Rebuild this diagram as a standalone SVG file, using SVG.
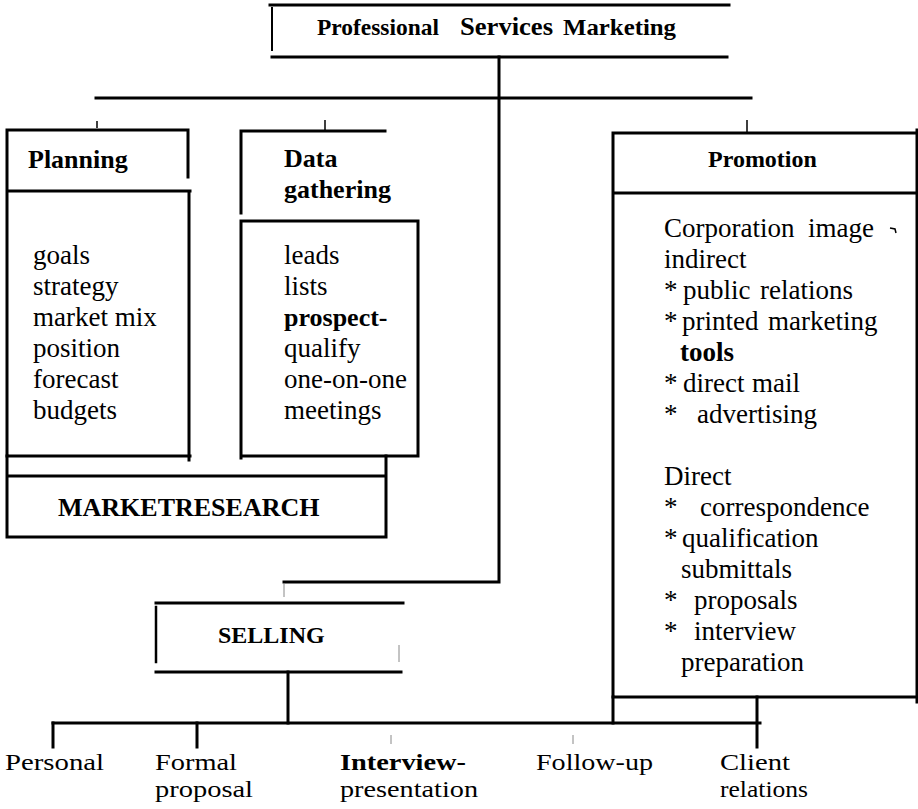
<svg xmlns="http://www.w3.org/2000/svg" width="918" height="809" viewBox="0 0 918 809">
<style>
.ln{stroke:#000;stroke-width:3;fill:none;stroke-linecap:square}
.tk{stroke:#000;stroke-width:1.5;fill:none}
.gt{stroke:#888;stroke-width:1;fill:none}
.t{font-family:"Liberation Serif","Times New Roman",serif;font-size:27px;fill:#000}
.p{font-family:"Liberation Serif","Times New Roman",serif;font-size:27px;fill:#000}
.bt{font-family:"Liberation Serif","Times New Roman",serif;font-size:24px;fill:#000}
.b{font-weight:bold}
.h{font-family:"Liberation Serif","Times New Roman",serif;font-size:26px;font-weight:bold;fill:#000}
</style>
<rect width="918" height="809" fill="#fff"/>
<g id="connectors">
<path class="ln" d="M499,57 V582 H284"/>
<path class="ln" d="M96,98 H751"/>
<path class="tk" d="M97,121 V128 M325,120 V131 M747,120 V132"/>
<path class="gt" d="M284,584 V597"/>
<path class="ln" d="M288,672 V723"/>
<path class="ln" d="M53,723 H760"/>
<path class="ln" d="M53,723 V747 M197,723 V747 M757,697 V747 M613,697 V723"/>
<path class="gt" d="M391,735 V744 M573,735 V744"/>
</g>
<g id="title">
<path class="ln" d="M270,5 H729 M272,57 H727"/>
<path class="ln" d="M272,8 V50" style="stroke-width:2"/>
<text class="h" y="35" style="font-size:24px"><tspan x="317" textLength="122" lengthAdjust="spacingAndGlyphs">Professional</tspan><tspan x="460" textLength="93" lengthAdjust="spacingAndGlyphs" style="font-size:26px">Services</tspan><tspan x="563" textLength="113" lengthAdjust="spacingAndGlyphs">Marketing</tspan></text>
</g>
<g id="planning">
<path class="ln" d="M7,130 H188 M188,130 V177 M7,191 H190 M189,191 V460 M7,456 H190 M7,130 V456"/>
<text class="h" x="28" y="168">Planning</text>
<text class="t"><tspan x="33" y="264">goals</tspan><tspan x="33" y="295">strategy</tspan><tspan x="33" y="326">market mix</tspan><tspan x="33" y="357">position</tspan><tspan x="33" y="388">forecast</tspan><tspan x="33" y="419">budgets</tspan></text>
</g>
<g id="data-gathering">
<path class="ln" d="M241,131 H385 M241,131 V213 M241,221 H418 M241,221 V458 M418,221 V456 M241,456 H418"/>
<text class="h"><tspan x="284" y="167">Data</tspan><tspan x="284" y="198">gathering</tspan></text>
<text class="t"><tspan x="284" y="264">leads</tspan><tspan x="284" y="295">lists</tspan><tspan x="284" y="326" class="b" style="font-size:26px">prospect-</tspan><tspan x="284" y="357">qualify</tspan><tspan x="284" y="388">one-on-one</tspan><tspan x="284" y="419">meetings</tspan></text>
</g>
<g id="market-research">
<path class="ln" d="M7,456 V537 H386 V456 M7,476 H386"/>
<text class="h" x="58" y="516">MARKETRESEARCH</text>
</g>
<g id="promotion">
<path class="ln" d="M613,133 H917 M917,130 V702 M613,133 V697 M613,193 H917 M613,697 H917"/>
<text class="h" x="708" y="167" style="font-size:24px">Promotion</text>
<text class="p">
<tspan x="664" y="237">Corporation</tspan><tspan x="808" y="237">image</tspan>
<tspan x="664" y="268">indirect</tspan>
<tspan x="664" y="299">*</tspan><tspan x="683" y="299">public</tspan><tspan x="760" y="299">relations</tspan>
<tspan x="664" y="330">*</tspan><tspan x="682" y="330">printed</tspan><tspan x="768" y="330">marketing</tspan>
<tspan x="680" y="361" class="b">tools</tspan>
<tspan x="664" y="392">*</tspan><tspan x="683" y="392">direct</tspan><tspan x="752" y="392">mail</tspan>
<tspan x="664" y="423">*</tspan><tspan x="697" y="423">advertising</tspan>
<tspan x="664" y="485">Direct</tspan>
<tspan x="664" y="516">*</tspan><tspan x="700" y="516">correspondence</tspan>
<tspan x="664" y="547">*</tspan><tspan x="682" y="547">qualification</tspan>
<tspan x="681" y="578">submittals</tspan>
<tspan x="664" y="609">*</tspan><tspan x="694" y="609">proposals</tspan>
<tspan x="664" y="640">*</tspan><tspan x="694" y="640">interview</tspan>
<tspan x="681" y="671">preparation</tspan>
</text>
<path d="M890,228 l5,1 l1,4" stroke="#000" stroke-width="1.5" fill="none"/>
</g>
<g id="selling">
<path class="ln" d="M156,603 H403 M156,672 H401"/>
<path class="ln" d="M156,607 V662" style="stroke-width:2.5"/>
<path class="gt" d="M399,645 V662"/>
<text class="h" x="218" y="643" style="font-size:24px">SELLING</text>
</g>
<g id="personal"><text class="bt" x="5" y="770" textLength="99" lengthAdjust="spacingAndGlyphs">Personal</text></g>
<g id="formal-proposal"><text class="bt"><tspan x="155" y="770" textLength="82" lengthAdjust="spacingAndGlyphs">Formal</tspan><tspan x="155" y="797" textLength="98" lengthAdjust="spacingAndGlyphs">proposal</tspan></text></g>
<g id="interview-presentation"><text class="bt"><tspan x="340" y="770" class="b" textLength="126" lengthAdjust="spacingAndGlyphs">Interview-</tspan><tspan x="340" y="797" textLength="138" lengthAdjust="spacingAndGlyphs">presentation</tspan></text></g>
<g id="follow-up"><text class="bt" x="536" y="770" textLength="117" lengthAdjust="spacingAndGlyphs">Follow-up</text></g>
<g id="client-relations"><text class="bt"><tspan x="720" y="770" textLength="70" lengthAdjust="spacingAndGlyphs">Client</tspan><tspan x="720" y="797" textLength="88" lengthAdjust="spacingAndGlyphs">relations</tspan></text></g>
</svg>
